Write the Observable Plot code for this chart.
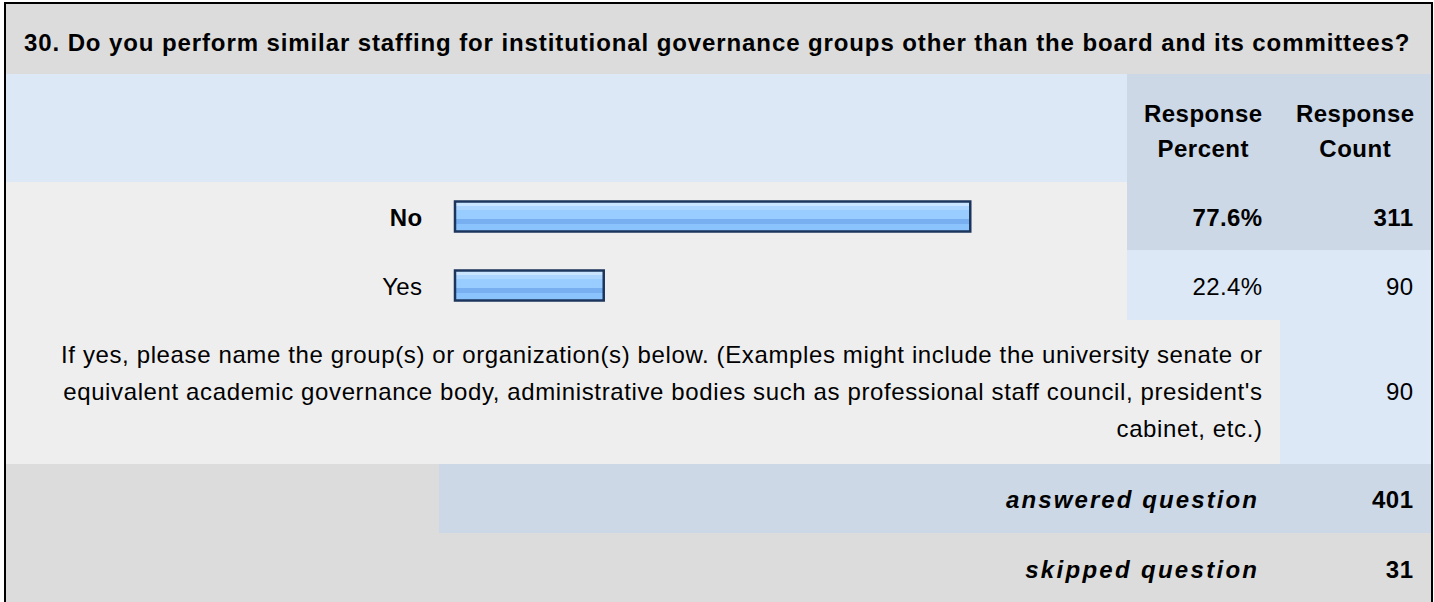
<!DOCTYPE html>
<html><head><meta charset="utf-8">
<script src="https://cdn.jsdelivr.net/npm/d3@7"></script>
<script src="https://cdn.jsdelivr.net/npm/@observablehq/plot@0.6"></script>
<style>
html,body{margin:0;padding:0;background:#fff;}
#wrap{position:relative;width:1434px;height:602px;overflow:hidden;font-family:"Liberation Sans",Arial,sans-serif;font-size:24px;color:#000;}
.bg{position:absolute;}
.t{position:absolute;white-space:nowrap;line-height:37px;}
#frame{position:absolute;left:4px;top:2px;width:1429px;height:700px;box-sizing:border-box;border:2px solid #000;}
#chart{position:absolute;left:0;top:182px;}
</style></head><body><div id="wrap"></div>
<script>
// ---- data ----
const title = "30. Do you perform similar staffing for institutional governance groups other than the board and its committees?";
const headerPercent = ["Response", "Percent"];
const headerCount = ["Response", "Count"];
const categories = ["No", "Yes"];
const percents = [77.6, 22.4];
const counts = [311, 90];
const commentLines = [
  "If yes, please name the group(s) or organization(s) below. (Examples might include the university senate or",
  "equivalent academic governance body, administrative bodies such as professional staff council, president's",
  "cabinet, etc.)"
];
const commentCount = 90;
const footerLabels = ["answered question", "skipped question"];
const footerCounts = [401, 31];

// ---- layout chrome ----
const wrap = document.getElementById("wrap");
function bg(x1, y1, x2, y2, color) {
  const d = document.createElement("div");
  d.className = "bg";
  Object.assign(d.style, {left: x1 + "px", top: y1 + "px", width: (x2 - x1) + "px", height: (y2 - y1) + "px", background: color});
  wrap.appendChild(d);
}
const BASE = 26.8; // baseline offset, 24px Liberation Sans, 37px line-height
function txt(html, baseline, opts) {
  const d = document.createElement("div");
  d.className = "t";
  d.innerHTML = html;
  d.style.top = (baseline - BASE) + "px";
  const ls = opts.ls || 0;
  if (ls) d.style.letterSpacing = ls + "px";
  if (opts.left != null) d.style.left = opts.left + "px";
  if (opts.right != null) { d.style.right = (1434 - opts.right - ls) + "px"; d.style.textAlign = "right"; }
  if (opts.center != null) { d.style.left = (opts.center - 200 + ls / 2) + "px"; d.style.width = "400px"; d.style.textAlign = "center"; }
  if (opts.bold) d.style.fontWeight = "bold";
  if (opts.italic) d.style.fontStyle = "italic";
  if (opts.lh) { d.style.lineHeight = opts.lh + "px"; d.style.top = (baseline - (opts.lh / 2 - 13.4 + 21.72)) + "px"; }
  wrap.appendChild(d);
}

const GRAY = "#dcdcdc", LIGHT = "#eeeeee", BLUE = "#dce8f5", BLUE2 = "#cdd8e6";
bg(6, 4, 1431, 74, GRAY);
bg(6, 74, 1127, 182, BLUE);
bg(1127, 74, 1431, 182, BLUE2);
bg(6, 182, 1127, 320, LIGHT);
bg(1127, 182, 1431, 250, BLUE2);
bg(1127, 250, 1431, 320, BLUE);
bg(6, 320, 1280, 464, LIGHT);
bg(1280, 320, 1431, 464, BLUE);
bg(6, 464, 439, 533, GRAY);
bg(439, 464, 1431, 533, BLUE2);
bg(6, 533, 1431, 602, GRAY);
const fr = document.createElement("div"); fr.id = "frame"; wrap.appendChild(fr);

txt(title, 51, {left: 24, bold: true, ls: 0.9});
txt(headerPercent.join("<br>"), 122, {center: 1203, bold: true, lh: 35, ls: 0.5});
txt(headerCount.join("<br>"), 122, {center: 1355, bold: true, lh: 35, ls: 0.5});
txt(commentLines.join("<br>"), 363, {right: 1262, ls: 0.62});
txt(String(commentCount), 400, {right: 1413, ls: 0.3});
txt(footerLabels[0], 508, {right: 1257, bold: true, italic: true, ls: 2.1});
txt(String(footerCounts[0]), 508, {right: 1413, bold: true, ls: 0.5});
txt(footerLabels[1], 578, {right: 1257, bold: true, italic: true, ls: 2.3});
txt(String(footerCounts[1]), 578, {right: 1413, bold: true, ls: 0.5});

// ---- chart (Observable Plot) ----
const rows = categories.map((c, i) => ({answer: c, pct: percents[i], count: counts[i]}));
const maxPct = d3.max(percents);
const topRows = rows.filter(d => d.pct === maxPct);
const otherRows = rows.filter(d => d.pct !== maxPct);
const textBase = {y: "answer", fontSize: 24, fill: "#000", dy: 1.5};

const chart = Plot.plot({
  width: 1434, height: 138,
  marginLeft: 455, marginRight: 315, marginTop: 0, marginBottom: 0,
  style: {background: "transparent", fontFamily: "Liberation Sans, Arial, sans-serif", fontSize: "24px", color: "#000", overflow: "visible", letterSpacing: "0.4px"},
  x: {domain: [0, 100], axis: null},
  y: {domain: categories, axis: null, padding: 0},
  marks: [
    Plot.barX(rows, {x: "pct", y: "answer", fill: "url(#barGrad)", stroke: "#1b355c", strokeWidth: 2.5, insetTop: 19.5, insetBottom: 19.5}),
    Plot.text(topRows, {...textBase, text: "answer", frameAnchor: "left", textAnchor: "end", dx: -33, fontWeight: "bold"}),
    Plot.text(otherRows, {...textBase, text: "answer", frameAnchor: "left", textAnchor: "end", dx: -33}),
    Plot.text(topRows, {...textBase, text: d => d.pct.toFixed(1) + "%", frameAnchor: "right", textAnchor: "end", dx: 143, fontWeight: "bold"}),
    Plot.text(otherRows, {...textBase, text: d => d.pct.toFixed(1) + "%", frameAnchor: "right", textAnchor: "end", dx: 143}),
    Plot.text(topRows, {...textBase, text: d => String(d.count), frameAnchor: "right", textAnchor: "end", dx: 294, fontWeight: "bold"}),
    Plot.text(otherRows, {...textBase, text: d => String(d.count), frameAnchor: "right", textAnchor: "end", dx: 294})
  ]
});
const svg = d3.select(chart);
const grad = svg.insert("defs", ":first-child").append("linearGradient")
  .attr("id", "barGrad").attr("x1", 0).attr("y1", 0).attr("x2", 0).attr("y2", 1);
[[0, "#c8e4ff"], [0.14, "#c8e4ff"], [0.14, "#acd6ff"], [0.27, "#acd6ff"], [0.27, "#99ccff"],
 [0.58, "#99ccff"], [0.58, "#77aff0"], [0.75, "#77aff0"], [0.75, "#8bc4fd"], [1, "#8bc4fd"]]
  .forEach(([o, c]) => grad.append("stop").attr("offset", o).attr("stop-color", c));
const holder = document.createElement("div");
holder.id = "chart";
holder.appendChild(chart);
wrap.appendChild(holder);
</script>
</body></html>
